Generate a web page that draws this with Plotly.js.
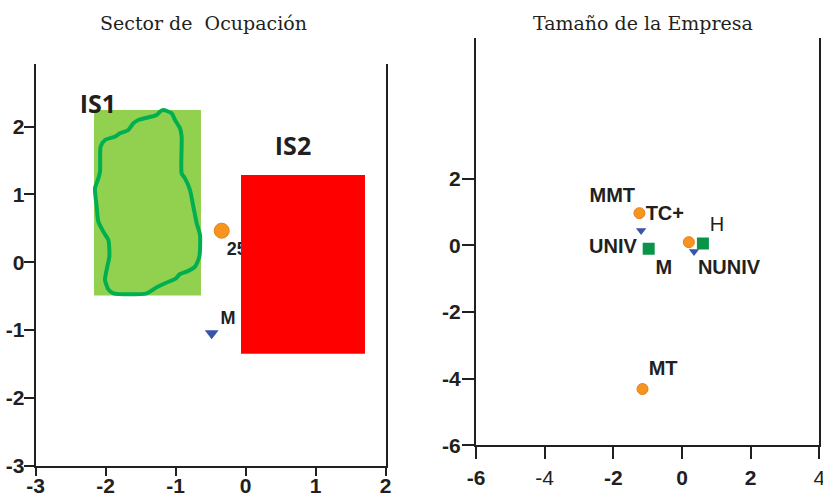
<!DOCTYPE html>
<html><head><meta charset="utf-8">
<script src="https://cdn.plot.ly/plotly-3.0.1.min.js"></script>
<style>html,body{margin:0;padding:0;background:#fff}#chart{width:823px;height:494px}</style>
</head><body><div id="chart"></div>
<script>
// ---- Left panel: Sector de Ocupación ----
const is1BoxX = [-2.167, -0.639];
const is1BoxY = [-0.49, 2.246];
const is2BoxX = [-0.067, 1.704];
const is2BoxY = [-1.348, 1.288];
const blobX = [-1.177,-1.058,-1.010,-0.939,-0.915,-0.915,-0.867,-0.796,-0.748,-0.700,-0.653,-0.662,-0.724,-0.843,-0.939,-0.996,-1.153,-1.272,-1.415,-1.891,-1.962,-2.010,-1.977,-1.948,-1.962,-2.034,-2.105,-2.129,-2.153,-2.105,-2.081,-2.072,-2.010,-1.867,-1.796,-1.677,-1.605,-1.534,-1.272,-1.224,-1.177];
const blobY = [2.246,2.197,2.099,1.976,1.853,1.312,1.238,1.066,0.821,0.575,0.403,0.083,-0.064,-0.138,-0.173,-0.236,-0.310,-0.369,-0.458,-0.458,-0.399,-0.261,-0.064,0.083,0.329,0.452,0.599,0.821,1.091,1.238,1.337,1.705,1.804,1.853,1.902,1.951,2.050,2.099,2.173,2.222,2.246];
const leftCircleX = [-0.343], leftCircleY = [0.466];
const leftTriX = [-0.486], leftTriY = [-1.047];
const leftLabels = ["25-34", "M"];
const leftLabelX = [-0.27, -0.36];
const leftLabelY = [0.18, -0.84];
const groupLabels = ["IS1", "IS2"];
const groupLabelX = [-2.11, 0.676];
const groupLabelY = [2.29, 1.67];
const leftXTicks = [-3, -2, -1, 0, 1, 2];
const leftXTickText = ["-3", "-2", "-1", "0", "1", "2"];
const leftYTicks = [-3, -2, -1, 0, 1, 2];
const leftYTickText = ["-3", "-2", "-1", "0", "1", "2"];

// ---- Right panel: Tamaño de la Empresa ----
const orangeX = [-1.24, 0.2, -1.15];
const orangeY = [0.97, 0.1, -4.31];
const blueX = [-1.19, 0.35];
const blueY = [0.45, -0.18];
const greenX = [-0.97, 0.61];
const greenY = [-0.1, 0.06];
const rightLabels = ["MMT", "TC+", "UNIV", "M", "NUNIV", "MT"];
const rightLabelX = [-2.03, -0.5, -2.01, -0.53, 1.37, -0.55];
const rightLabelY = [1.45, 0.92, -0.08, -0.70, -0.71, -3.75];
const hLabel = ["H"], hLabelX = [1.02], hLabelY = [0.59];
const rightXTicks = [-6, -4, -2, 0, 2, 4];
const rightXTickText = ["-6", "-4", "-2", "0", "2", "4"];
const rightXPlainTicks = ["-4", "4"];   // drawn in regular weight in the original
const rightYTicks = [-6, -4, -2, 0, 2];
const rightYTickText = ["-6", "-4", "-2", "0", "2"];

const titles = ["Sector de\u00a0 Ocupación", "Tamaño de la Empresa"];

const dark = "#231F20";
const orange = "#F7941D", blue = "#3B54A5", green = "#0A9447";
const sans = "Liberation Sans, Arial, sans-serif";
const boldFont = {family: sans, size: 20, color: dark, weight: 700};

const bold = (arr, plain) => arr.map(t => (plain && plain.includes(t)) ? t : "<b>" + t + "</b>");

function boxPoly(bx, by) {
  return {x: [bx[0], bx[1], bx[1], bx[0], bx[0]], y: [by[0], by[0], by[1], by[1], by[0]]};
}
const p1 = boxPoly(is1BoxX, is1BoxY);
const p2 = boxPoly(is2BoxX, is2BoxY);

const traces = [
  {x: p1.x, y: p1.y, xaxis: "x", yaxis: "y", mode: "lines", fill: "toself", fillcolor: "#92D050", line: {width: 0, color: "#92D050"}, hoverinfo: "skip"},
  {x: blobX, y: blobY, xaxis: "x", yaxis: "y", mode: "lines", line: {color: "#00B050", width: 4, shape: "spline", smoothing: 0.6}, hoverinfo: "skip"},
  {x: leftCircleX, y: leftCircleY, xaxis: "x", yaxis: "y", mode: "markers", marker: {symbol: "circle", size: 15, color: orange, line: {color: "#E5801A", width: 1}}},
  {x: leftTriX, y: leftTriY, xaxis: "x", yaxis: "y", mode: "markers", marker: {symbol: "triangle-down", size: 12, color: blue, line: {width: 0}}},
  {x: leftLabelX, y: leftLabelY, xaxis: "x", yaxis: "y", mode: "text", text: leftLabels, textposition: "middle right", textfont: {family: sans, size: 18, color: dark, weight: 700}},
  {x: p2.x, y: p2.y, xaxis: "x", yaxis: "y", mode: "lines", fill: "toself", fillcolor: "#FF0000", line: {width: 0, color: "#FF0000"}, hoverinfo: "skip"},
  {x: groupLabelX, y: groupLabelY, xaxis: "x", yaxis: "y", mode: "text", text: groupLabels, textposition: "middle center", textfont: {family: "Open Sans, sans-serif", size: 25, color: dark, weight: 700}},

  {x: orangeX, y: orangeY, xaxis: "x2", yaxis: "y2", mode: "markers", marker: {symbol: "circle", size: 11, color: orange, line: {color: "#E5801A", width: 1}}},
  {x: blueX, y: blueY, xaxis: "x2", yaxis: "y2", mode: "markers", marker: {symbol: "triangle-down", size: 9, color: blue, line: {width: 0}}},
  {x: greenX, y: greenY, xaxis: "x2", yaxis: "y2", mode: "markers", marker: {symbol: "square", size: 12, color: green, line: {width: 0}}},
  {x: rightLabelX, y: rightLabelY, xaxis: "x2", yaxis: "y2", mode: "text", text: rightLabels, textposition: "middle center", textfont: boldFont},
  {x: hLabelX, y: hLabelY, xaxis: "x2", yaxis: "y2", mode: "text", text: hLabel, textposition: "middle center", textfont: {family: sans, size: 20, color: dark}}
];

const axisCommon = {
  showgrid: false, zeroline: false, showline: true, linecolor: dark, linewidth: 2,
  ticks: "outside", tickwidth: 2, tickcolor: dark,
  tickfont: {family: sans, size: 21, color: dark},
  tickmode: "array", fixedrange: true, ticklabeloverflow: "allow"
};

const W = 823, H = 494;
const layout = {
  width: W, height: H, margin: {l: 0, r: 0, t: 0, b: 0},
  paper_bgcolor: "#fff", plot_bgcolor: "rgba(0,0,0,0)", showlegend: false, hovermode: false,
  xaxis: Object.assign({}, axisCommon, {domain: [35.7 / W, 385.7 / W], range: [-3, 2], tickvals: leftXTicks, ticktext: bold(leftXTickText), ticklen: 8, ticklabelstandoff: -8, anchor: "y"}),
  yaxis: Object.assign({}, axisCommon, {domain: [1 - 465.7 / H, 1 - 64.3 / H], range: [-3, 2.92], tickvals: leftYTicks, ticktext: bold(leftYTickText), ticklen: 10, ticklabelstandoff: -5, mirror: true, anchor: "x"}),
  xaxis2: Object.assign({}, axisCommon, {domain: [476 / W, 819.3 / W], range: [-6, 4], tickvals: rightXTicks, ticktext: bold(rightXTickText, rightXPlainTicks), ticklen: 12, ticklabelstandoff: 0, anchor: "y2"}),
  yaxis2: Object.assign({}, axisCommon, {domain: [1 - 445.3 / H, 1 - 38.3 / H], range: [-6, 6.22], tickvals: rightYTicks, ticktext: bold(rightYTickText), ticklen: 12, ticklabelstandoff: -3, mirror: true, anchor: "x2"}),
  annotations: [
    {text: titles[0], xref: "paper", yref: "paper", x: 203 / W, y: 1 - 22.7 / H, xanchor: "center", yanchor: "middle", showarrow: false, font: {family: "DejaVu Serif, serif", size: 19, color: dark}},
    {text: titles[1], xref: "paper", yref: "paper", x: 643.3 / W, y: 1 - 22.7 / H, xanchor: "center", yanchor: "middle", showarrow: false, font: {family: "DejaVu Serif, serif", size: 19, color: dark}}
  ]
};

Plotly.newPlot("chart", traces, layout, {staticPlot: true, displayModeBar: false});
</script></body></html>
